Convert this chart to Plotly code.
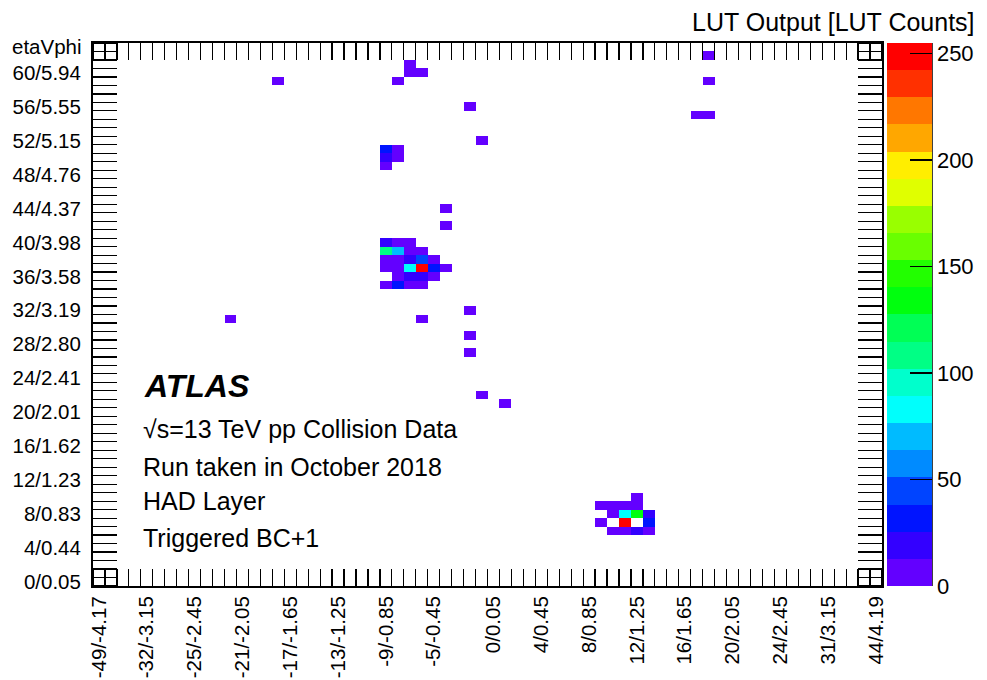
import colorsys
import plotly.graph_objects as go

# ---------------- data ----------------
eta_bin = [24, 25, 26, 24, 25, 26, 27, 24, 25, 26, 27, 28, 24, 25, 26, 27, 28, 29,
           25, 26, 27, 28, 24, 25, 26, 27,
           24, 25, 24, 25, 24,
           45, 42, 43, 44, 45, 43, 44, 45, 46, 42, 44, 46, 43, 44, 45, 46,
           26, 26, 27, 15, 25, 31, 32, 29, 29, 31, 11, 27, 31, 31, 32, 34, 51, 51, 50, 51]
phi_bin = [40, 40, 40, 39, 39, 39, 39, 38, 38, 38, 38, 38, 37, 37, 37, 37, 37, 37,
           36, 36, 36, 36, 35, 35, 35, 35,
           51, 51, 50, 50, 49,
           10, 9, 9, 9, 9, 8, 8, 8, 8, 7, 7, 7, 6, 6, 6, 6,
           61, 60, 60, 59, 59, 56, 52, 44, 42, 32, 31, 31, 29, 27, 22, 21, 62, 59, 55, 55]
lut_counts = [20, 5, 5, 108, 70, 5, 5, 5, 5, 20, 45, 5, 5, 5, 83, 255, 32, 5,
              5, 20, 20, 5, 5, 32, 5, 5,
              32, 5, 20, 5, 5,
              5, 5, 5, 5, 5, 5, 83, 134, 20, 5, 255, 32, 5, 5, 20, 5,
              5, 5, 5, 5, 5, 5, 5, 5, 5, 5, 5, 5, 5, 5, 5, 5, 5, 5, 5, 5]

n_eta = 66
n_phi = 64

x_tick_bins = [0, 4, 8, 12, 16, 20, 24, 28, 33, 37, 41, 45, 49, 53, 57, 61, 65]
x_tick_text = ["-49/-4.17", "-32/-3.15", "-25/-2.45", "-21/-2.05", "-17/-1.65",
               "-13/-1.25", "-9/-0.85", "-5/-0.45", "0/0.05", "4/0.45", "8/0.85",
               "12/1.25", "16/1.65", "20/2.05", "24/2.45", "31/3.15", "44/4.19"]
y_tick_bins = [0, 4, 8, 12, 16, 20, 24, 28, 32, 36, 40, 44, 48, 52, 56, 60]
y_tick_text = ["0/0.05", "4/0.44", "8/0.83", "12/1.23", "16/1.62", "20/2.01",
               "24/2.41", "28/2.80", "32/3.19", "36/3.58", "40/3.98", "44/4.37",
               "48/4.76", "52/5.15", "56/5.55", "60/5.94"]
z_min, z_max = 0, 255
cbar_ticks = [0, 50, 100, 150, 200, 250]

# ---------------- build matrix ----------------
z = [[None] * n_eta for _ in range(n_phi)]
for e, p, v in zip(eta_bin, phi_bin, lut_counts):
    z[p][e] = v

# ROOT "pretty palette" with 20 contour bands
n_bands = 20
colorscale = []
for k in range(n_bands):
    ci = int((k + 0.99) * 50 / n_bands)
    hue = max(280 - (ci + 1) * 5.6, 0)
    r, g, b = colorsys.hls_to_rgb(hue / 360.0, 0.5, 1.0)
    col = "rgb(%d,%d,%d)" % (round(r * 255), round(g * 255), round(b * 255))
    colorscale.append([k / n_bands, col])
    colorscale.append([(k + 1) / n_bands, col])

# ---------------- geometry helpers ----------------
L, R, T, B = 93, 882, 43, 586
W, H = 987, 680
def px_x(x):
    return (x - L) / (R - L)
def px_y(y):
    return (B - y) / (B - T)

FONT = "Liberation Sans, Arial, Helvetica, sans-serif"

fig = go.Figure(go.Heatmap(
    x=list(range(n_eta)), y=list(range(n_phi)), z=z,
    zmin=z_min, zmax=z_max, colorscale=colorscale,
    hoverongaps=False,
    colorbar=dict(
        x=px_x(887), xanchor="left", xpad=0, ypad=0,
        y=0.5, yanchor="middle", len=1, lenmode="fraction",
        thickness=45, thicknessmode="pixels",
        outlinewidth=0,
        tickmode="array", tickvals=cbar_ticks,
        ticks="inside", ticklen=22, tickwidth=1.5, tickcolor="black",
        tickfont=dict(family=FONT, size=22, color="black"),
    ),
))

fig.update_xaxes(
    range=[-0.5, n_eta - 0.5], tickmode="array", tickvals=x_tick_bins, ticktext=x_tick_text,
    ticks="", tickangle=-90, ticklabelstandoff=0, automargin=False,
    tickfont=dict(family=FONT, size=20.5, color="black"),
    showline=True, linecolor="black", linewidth=2, mirror="ticks",
    showgrid=False, zeroline=False,
    minor=dict(tick0=-0.5, dtick=1, ticks="inside", ticklen=17, tickwidth=1.2,
               tickcolor="black", showgrid=False),
)
fig.update_yaxes(
    range=[-0.5, n_phi - 0.5], tickmode="array", tickvals=y_tick_bins, ticktext=y_tick_text,
    ticks="", ticklabelstandoff=6, automargin=False,
    tickfont=dict(family=FONT, size=20.5, color="black"),
    showline=True, linecolor="black", linewidth=2, mirror="ticks",
    showgrid=False, zeroline=False,
    minor=dict(tick0=-0.5, dtick=1, ticks="inside", ticklen=24, tickwidth=1.2,
               tickcolor="black", showgrid=False),
)

# colorbar axis line (right edge)
fig.add_shape(type="line", xref="paper", yref="paper",
              x0=px_x(932), x1=px_x(932), y0=0, y1=1,
              line=dict(color="black", width=1.5))

ann = []
def text(x, y, s, size, anchor="left", bold_italic=False):
    if bold_italic:
        s = "<b><i>%s</i></b>" % s
    ann.append(dict(xref="paper", yref="paper", x=px_x(x), y=px_y(y), text=s,
                    showarrow=False, xanchor=anchor, yanchor="middle",
                    font=dict(family=FONT, size=size, color="black")))

text(142, 386, "ATLAS", 32, bold_italic=True)
text(141, 429, "√s=13 TeV pp Collision Data", 25)
text(141, 467, "Run taken in October 2018", 25)
text(141, 501, "HAD Layer", 25)
text(141, 538, "Triggered BC+1", 25)
text(977, 22, "LUT Output [LUT Counts]", 25, anchor="right")
text(84, 47, "etaVphi", 20.5, anchor="right")

fig.update_layout(
    template="none",
    width=W, height=H, autosize=False,
    margin=dict(l=L, r=W - R, t=T, b=H - B, pad=0, autoexpand=False),
    paper_bgcolor="white", plot_bgcolor="white",
    annotations=ann, showlegend=False,
)

fig.write_html("out.html",
               config={"displayModeBar": False, "staticPlot": True},
               post_script="document.body.style.margin='0px';"
                           "document.body.style.overflow='hidden';")
